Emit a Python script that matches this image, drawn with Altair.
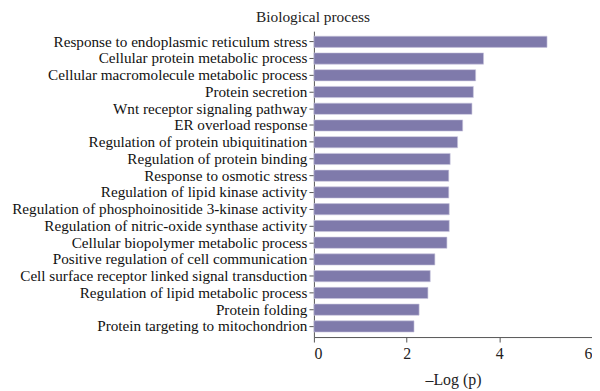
import altair as alt
import pandas as pd

terms = [
    "Response to endoplasmic reticulum stress",
    "Cellular protein metabolic process",
    "Cellular macromolecule metabolic process",
    "Protein secretion",
    "Wnt receptor signaling pathway",
    "ER overload response",
    "Regulation of protein ubiquitination",
    "Regulation of protein binding",
    "Response to osmotic stress",
    "Regulation of lipid kinase activity",
    "Regulation of phosphoinositide 3-kinase activity",
    "Regulation of nitric-oxide synthase activity",
    "Cellular biopolymer metabolic process",
    "Positive regulation of cell communication",
    "Cell surface receptor linked signal transduction",
    "Regulation of lipid metabolic process",
    "Protein folding",
    "Protein targeting to mitochondrion",
]
values = [5.03, 3.66, 3.49, 3.44, 3.41, 3.21, 3.10, 2.94, 2.91, 2.91, 2.92, 2.92, 2.87, 2.61, 2.51, 2.46, 2.27, 2.16]
x_ticks = [0, 2, 4, 6]

df = pd.DataFrame({"term": terms, "value": values})

FONT = "Liberation Serif"

chart = alt.Chart(df).mark_bar(color="#7f7aab", stroke="#c9c6de", strokeWidth=0.6).encode(
    x=alt.X("value:Q", scale=alt.Scale(domain=[0, 6], nice=False),
            axis=alt.Axis(values=x_ticks, title="–Log (p)", grid=False, format="d",
                          labelFont=FONT, labelFontSize=16, labelColor="#222",
                          titleFont=FONT, titleFontSize=16, titleFontWeight="normal",
                          titleColor="#222", titlePadding=10, labelPadding=4,
                          domainColor="#555", tickColor="#555", tickSize=5)),
    y=alt.Y("term:N", sort=terms,
            scale=alt.Scale(paddingInner=0.33, paddingOuter=0.3),
            axis=alt.Axis(title=None, labelFont=FONT, labelFontSize=15.3, labelColor="#111",
                          labelPadding=2, labelLimit=400,
                          domainColor="#555", tickColor="#555", tickSize=5)),
).properties(
    width=280, height=308,
    title=alt.TitleParams("Biological process", font=FONT, fontSize=15.5, fontWeight="normal",
                          color="#222", anchor="middle", dx=-141, offset=6),
    autosize=alt.AutoSizeParams(type="none"),
    padding={"left": 308, "top": 22, "right": 0, "bottom": 53},
).configure_view(stroke=None)

chart.save("out.html", embed_options={"renderer": "svg", "actions": False})
